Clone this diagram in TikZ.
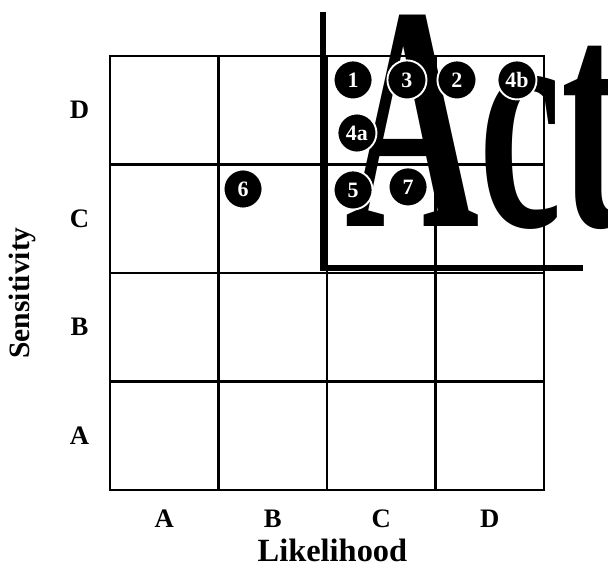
\documentclass[tikz,border=0pt]{standalone}
\usepackage{fontspec}
\setmainfont{Liberation Serif}
\begin{document}
\begin{tikzpicture}[x=2cm, y=2cm, every node/.style={font=\bfseries}]
    % Parameters
    \def\numcells{4}
    \pgfmathtruncatemacro{\lastindex}{\numcells-1}
    \tikzset{risk/.style={circle, fill=black, draw=white, line width=1pt, text=white,
            minimum size=0.72cm, inner sep=0pt, font=\bfseries\fontsize{11.5}{12}\selectfont}}

    % Fix the page
    \useasboundingbox (-1.014,-0.793) rectangle (4.590,4.516);
    \clip (-1.014,-0.793) rectangle (4.590,4.516);

    % Draw the grid
    \draw[line width=1.1pt] (0,0) rectangle (\numcells,\numcells);
    \foreach \i in {1,...,\lastindex} {
            \draw[line width=1.1pt] (\i,0) -- (\i,\numcells);
            \draw[line width=1.1pt] (0,\i) -- (\numcells,\i);
        }

    % Add letters on both axes
    \foreach \i in {0,...,\lastindex} {
            \pgfmathtruncatemacro{\letter}{65+\i}
            \node[font=\bfseries\fontsize{14}{16}\selectfont] (row\i) at (-0.28, \i+0.5) {\char\letter};
            \node[font=\bfseries\fontsize{14}{16}\selectfont] (col\i) at (\i+0.5, -0.267) {\char\letter};
        }

    % Axis titles
    \node[font=\bfseries\fontsize{17}{20}\selectfont] (likelihood) at (2.05, -0.553) {Likelihood};
    \node[rotate=90, font=\bfseries\fontsize{15.5}{18}\selectfont] (sensitivity) at (-0.811, 1.816) {Sensitivity};

    % Big lettering and bracket
    \node[anchor=base west, xscale=0.58, inner sep=0pt, font=\bfseries\fontsize{168}{168}\selectfont] (act) at (2.166, 2.424) {Act};
    \draw[line width=3.5pt] (1.963, 4.406) -- (1.963, 2.046) -- (4.359, 2.046);

    % Risk items
    \foreach \name/\x/\y in {1/2.240/3.779, 3/2.737/3.779, 2/3.198/3.779, 4b/3.751/3.779,
            4a/2.276/3.290, 5/2.240/2.765, 7/2.747/2.793, 6/1.226/2.774} {
            \node[risk] (r\name) at (\x, \y) {\name};
        }
\end{tikzpicture}
\end{document}
